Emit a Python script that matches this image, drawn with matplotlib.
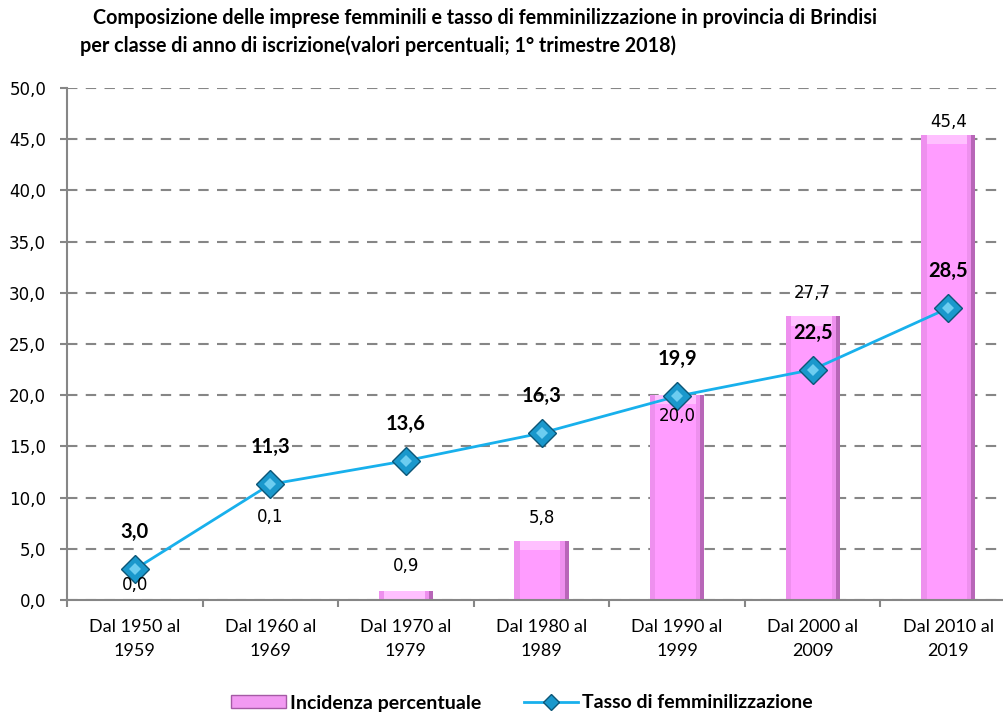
import numpy as np
import matplotlib
matplotlib.use('Agg')
import matplotlib.pyplot as plt
from matplotlib.patches import Patch
from matplotlib.lines import Line2D

categories = ["Dal 1950 al\n1959", "Dal 1960 al\n1969", "Dal 1970 al\n1979", "Dal 1980 al\n1989",
              "Dal 1990 al\n1999", "Dal 2000 al\n2009", "Dal 2010 al\n2019"]
incidenza = [0.0, 0.1, 0.9, 5.8, 20.0, 27.7, 45.4]
tasso = [3.0, 11.3, 13.6, 16.3, 19.9, 22.5, 28.5]

# label offsets in pixels (bar labels were moved by hand in the original)
bar_lab_off = [15, 82, 25, 23, -21, 23, 13]
line_lab_off = 37

plt.rcParams['font.family'] = ['Lato', 'DejaVu Sans']

fig = plt.figure(figsize=(10.04, 7.13), dpi=100)
ax = fig.add_axes([67/1004, 1 - 600/713, (1016-67)/1004, (600-88)/713])

x = np.arange(len(categories))
inc = np.array(incidenza)
# bevelled bar: dark base, light face, pale top strip
ax.bar(x, inc, width=0.4, color='#B866B8', linewidth=0, zorder=2)
ax.bar(x - 0.015, inc, width=0.37, color='#EE90EE', linewidth=0, zorder=2.1)
ax.bar(x - 0.01, np.clip(inc - 0.9, 0, None), width=0.3, color='#FF9CFF', linewidth=0, zorder=2.2)
ax.bar(x - 0.01, np.minimum(inc, 0.9), bottom=np.clip(inc - 0.9, 0, None), width=0.3,
       color='#FFC0FF', linewidth=0, zorder=2.2)

ax.plot(x, tasso, color='#18B0EC', linewidth=2, marker='D', markersize=14.5,
        markerfacecolor='#1A98CC', markeredgecolor='#0C5677', markeredgewidth=1, zorder=3)
ax.plot(x, tasso, linestyle='none', marker='D', markersize=6,
        markerfacecolor='#6CCDF0', markeredgewidth=0, zorder=3.1)

px = 0.72
for i, v in enumerate(incidenza):
    ax.annotate(f"{v:.1f}".replace('.', ','), (x[i], v), xytext=(0, bar_lab_off[i] * px),
                textcoords='offset points', ha='center', va='center', fontsize=12,
                family='DejaVu Sans', zorder=4)
for i, v in enumerate(tasso):
    ax.annotate(f"{v:.1f}".replace('.', ','), (x[i], v), xytext=(0, line_lab_off * px),
                textcoords='offset points', ha='center', va='center', fontsize=14.5,
                fontweight='bold', zorder=4)

ax.set_xlim(-0.5, len(categories) - 0.5)
ax.set_ylim(0, 50)
ax.set_yticks(np.arange(0, 51, 5))
ax.set_yticklabels([f"{t:.1f}".replace('.', ',') for t in np.arange(0, 51, 5)], fontsize=12,
                   family='DejaVu Sans')
ax.set_xticks(x)
ax.set_xticklabels(categories, fontsize=13, linespacing=1.55)
ax.set_xticks(np.arange(-0.5, len(categories), 1), minor=True)
ax.tick_params(axis='x', which='major', length=0, pad=14)
ax.tick_params(axis='x', which='minor', length=5, color='#868686', width=1.5)
ax.tick_params(axis='y', length=5, color='#868686', width=1.5, pad=10)

ax.grid(axis='y', linestyle=(0, (5, 4)), color='#868686', linewidth=1.5, zorder=0)
ax.set_axisbelow(True)
for s in ['top', 'right']:
    ax.spines[s].set_visible(False)
for s in ['left', 'bottom']:
    ax.spines[s].set_color('#868686')
    ax.spines[s].set_linewidth(1.5)

fig.text(93/1004, 1 - 18/713, "Composizione delle imprese femminili e tasso di femminilizzazione in provincia di Brindisi",
         fontsize=14.2, fontweight='bold', va='center', ha='left')
fig.text(80/1004, 1 - 46/713, "per classe di anno di iscrizione(valori percentuali; 1° trimestre 2018)",
         fontsize=14.2, fontweight='bold', va='center', ha='left')

handles = [Patch(facecolor='#F29AF2', edgecolor='#A55AA5'),
           Line2D([0], [0], color='#18B0EC', linewidth=2, marker='D', markersize=8,
                  markerfacecolor='#1A98CC', markeredgecolor='#0C5677')]
fig.legend(handles, ["Incidenza percentuale", "Tasso di femminilizzazione"], loc='center',
           bbox_to_anchor=(522/1004, 1 - 703/713), ncol=2, frameon=False,
           prop={'size': 14, 'weight': 'bold'}, handlelength=2.8, handleheight=0.6,
           handletextpad=0.2, columnspacing=2.2)

fig.savefig('out.png', dpi=100)
